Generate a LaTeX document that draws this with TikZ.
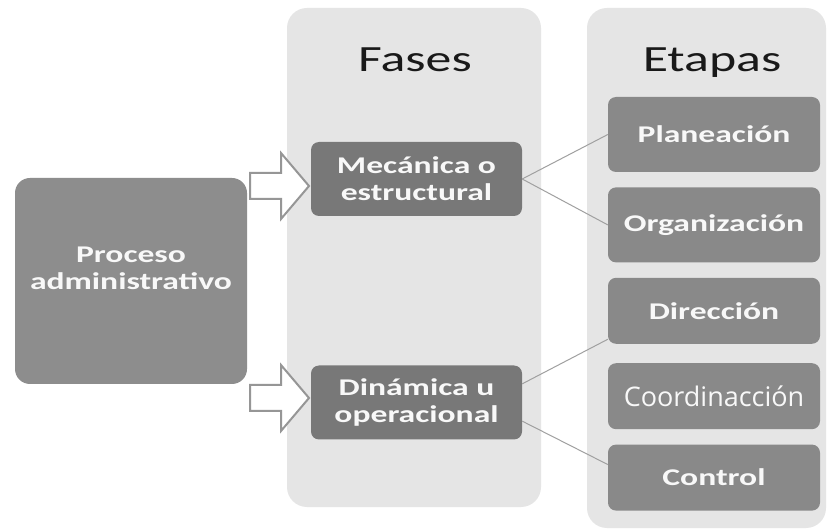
\documentclass[tikz,border=0pt]{standalone}
\usepackage{fontspec}
\usepackage{tikz}
\usetikzlibrary{positioning}
\newfontfamily\boxfont{Carlito}[FakeStretch=1.4]
\newfontfamily\coordfont{Open Sans}
\definecolor{panelgray}{RGB}{229,229,229}
\definecolor{procgray}{RGB}{141,141,141}
\definecolor{phasegray}{RGB}{120,120,120}
\definecolor{stagegray}{RGB}{137,137,137}
\definecolor{linegray}{RGB}{160,160,160}
\definecolor{arrowgray}{RGB}{150,150,150}
\definecolor{boxtext}{RGB}{248,248,248}

\begin{document}
\begin{tikzpicture}[
    x=1pt, y=-1pt,
    node distance=15pt,
    panel/.style={fill=panelgray, rounded corners=20pt},
    title/.style={font=\boxfont\fontsize{37}{40}\selectfont, text=black!90, anchor=base},
    mainbox/.style={rectangle, rounded corners=15pt, fill=procgray, text=boxtext, inner sep=0pt,
        font=\boxfont\bfseries\fontsize{24}{27}\selectfont, align=center},
    phase/.style={mainbox, rounded corners=8pt, fill=phasegray, minimum width=211pt, minimum height=74pt},
    stage/.style={mainbox, rounded corners=8pt, fill=stagegray, minimum width=212pt, minimum height=75pt},
    link/.style={draw=linegray, line width=1pt},
    hollow/.style={draw=arrowgray, fill=white, line width=2pt, line join=miter}
]
\fill[white] (0,0) rectangle (828,529);
\useasboundingbox (0,0) rectangle (828,529);

% Panels
\fill[panel] (287,8) rectangle (541,507);
\fill[panel] (587,8) rectangle (826,528);
\node[title] (fases) at (415,72) {Fases};
\node[title] (etapas) at (712,72) {Etapas};

% Process and phases
\node[mainbox, minimum width=232pt, minimum height=206pt, text depth=26pt] (proc) at (131,281) {Proceso\\administrativo};
\node[phase] (mec) at (416.5,179) {Mecánica o\\estructural};
\node[phase] (din) at (416.5,402.5) {Dinámica u\\operacional};

% Stages
\node[stage] (plan) at (714,134.5) {Planeación};
\node[stage, below=of plan] (org) {Organización};
\node[stage, minimum height=66pt, below=of org] (dir) {Dirección};
\node[stage, minimum height=66pt, below=19pt of dir,
      font=\coordfont\fontsize{27}{30}\selectfont] (coord) {Coordinacción};
\node[stage, minimum height=66pt, below=of coord] (ctrl) {Control};

% Hollow arrows
\foreach \ay in {186,398}
  \draw[hollow] (250,\ay-13) -- (281,\ay-13) -- (281,\ay-33) -- (309,\ay)
    -- (281,\ay+33) -- (281,\ay+13) -- (250,\ay+13) -- cycle;

% Links
\draw[link] (mec.east) -- (plan.west);
\draw[link] (mec.east) -- (org.west);
\draw[link] (din.10) -- (dir.195);
\draw[link] (din.-10) -- (ctrl.173);

\end{tikzpicture}
\end{document}
